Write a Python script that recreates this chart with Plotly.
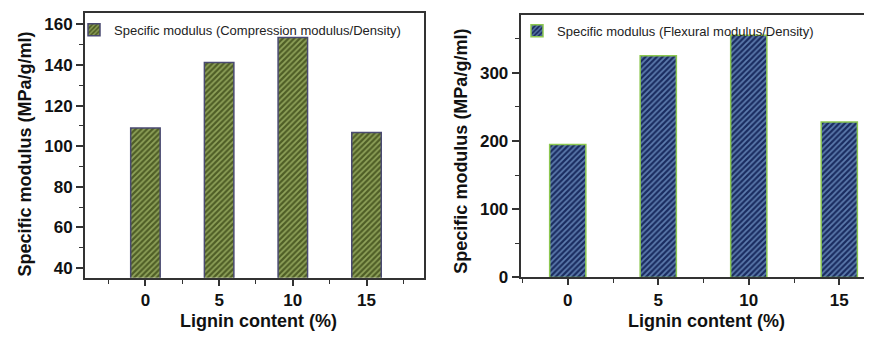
import plotly.graph_objects as go

lignin = [0, 5, 10, 15]
comp_specific = [109, 141.3, 153.5, 106.7]
flex_specific = [195, 325, 355, 228]
comp_label = "Specific modulus (Compression modulus/Density)"
flex_label = "Specific modulus (Flexural modulus/Density)"
y_title = "Specific modulus (MPa/g/ml)"
x_title = "Lignin content (%)"

W, H = 872, 338
FONT = "Liberation Sans, Arial, sans-serif"
LINE = "#333333"

fig = go.Figure()
fig.add_trace(go.Bar(
    x=lignin, y=comp_specific, width=2, name=comp_label,
    marker=dict(color="#4f5e26",
                line=dict(color="#4a4a72", width=1.5),
                pattern=dict(shape="/", fgcolor="#8fa25a", bgcolor="#4f5e26",
                             size=4, solidity=0.45, fillmode="replace")),
    xaxis="x", yaxis="y", legend="legend"))
fig.add_trace(go.Bar(
    x=lignin, y=flex_specific, width=2, name=flex_label,
    marker=dict(color="#1a2c60",
                line=dict(color="#8cc850", width=1.5),
                pattern=dict(shape="/", fgcolor="#5d7cae", bgcolor="#1a2c60",
                             size=4, solidity=0.45, fillmode="replace")),
    xaxis="x2", yaxis="y2", legend="legend2"))

tickfont = dict(family=FONT, size=17, color="#111", weight="bold")
common_x = dict(showline=True, linecolor=LINE, linewidth=2, ticks="outside",
                ticklen=6, tickwidth=1.5, tickcolor=LINE, tickfont=tickfont,
                tickvals=lignin, showgrid=False, zeroline=False,
                minor=dict(ticks="outside", tick0=2.5, dtick=5, ticklen=4,
                           tickwidth=1.2, tickcolor=LINE, showgrid=False))
common_y = dict(showline=True, linecolor=LINE, linewidth=2, ticks="outside",
                ticklen=7, tickwidth=1.5, tickcolor=LINE, tickfont=tickfont,
                showgrid=False, zeroline=False)

fig.update_layout(
    width=W, height=H, margin=dict(l=0, r=0, t=0, b=0),
    paper_bgcolor="white", plot_bgcolor="white",
    font=dict(family=FONT, color="#111"),
    barmode="overlay",
    xaxis=dict(domain=[77 / W, 416 / W], range=[-4.1, 18.9], mirror=True,
               anchor="y", **common_x),
    yaxis=dict(domain=[(H - 278) / H, (H - 5) / H], range=[35.2, 165.7],
               mirror=True, anchor="x", tickvals=[40, 60, 80, 100, 120, 140, 160],
               minor=dict(ticks="outside", tick0=30, dtick=10, ticklen=4,
                          tickwidth=1.2, tickcolor=LINE, showgrid=False),
               **common_y),
    xaxis2=dict(domain=[512.7 / W, 1.0], range=[-2.6, 17.25], mirror=True,
                anchor="y2", **common_x),
    yaxis2=dict(domain=[(H - 277.7) / H, (H - 7) / H], range=[0, 385],
                anchor="x2", tickvals=[0, 100, 200, 300],
                minor=dict(ticks="outside", tick0=50, dtick=100, ticklen=4,
                           tickwidth=1.2, tickcolor=LINE, showgrid=False),
                **common_y),
    legend=dict(x=66 / W, y=(H - 7) / H, xanchor="left", yanchor="top",
                bgcolor="rgba(0,0,0,0)", font=dict(family=FONT, size=13, color="#222")),
    legend2=dict(x=509 / W, y=(H - 8) / H, xanchor="left", yanchor="top",
                 bgcolor="rgba(0,0,0,0)", font=dict(family=FONT, size=13, color="#222")),
    showlegend=True,
)

title_font = dict(family=FONT, size=18, color="#111", weight="bold")
fig.add_annotation(text=x_title, x=250 / W, y=(H - 323) / H, xref="paper", yref="paper",
                   showarrow=False, font=title_font, xanchor="center", yanchor="middle")
fig.add_annotation(text=x_title, x=698 / W, y=(H - 323) / H, xref="paper", yref="paper",
                   showarrow=False, font=title_font, xanchor="center", yanchor="middle")
fig.add_annotation(text=y_title, x=17 / W, y=(H - 151) / H, xref="paper", yref="paper",
                   showarrow=False, font=title_font, textangle=-90,
                   xanchor="center", yanchor="middle")
fig.add_annotation(text=y_title, x=453 / W, y=(H - 147) / H, xref="paper", yref="paper",
                   showarrow=False, font=title_font, textangle=-90,
                   xanchor="center", yanchor="middle")

fig.write_html("out.html")
